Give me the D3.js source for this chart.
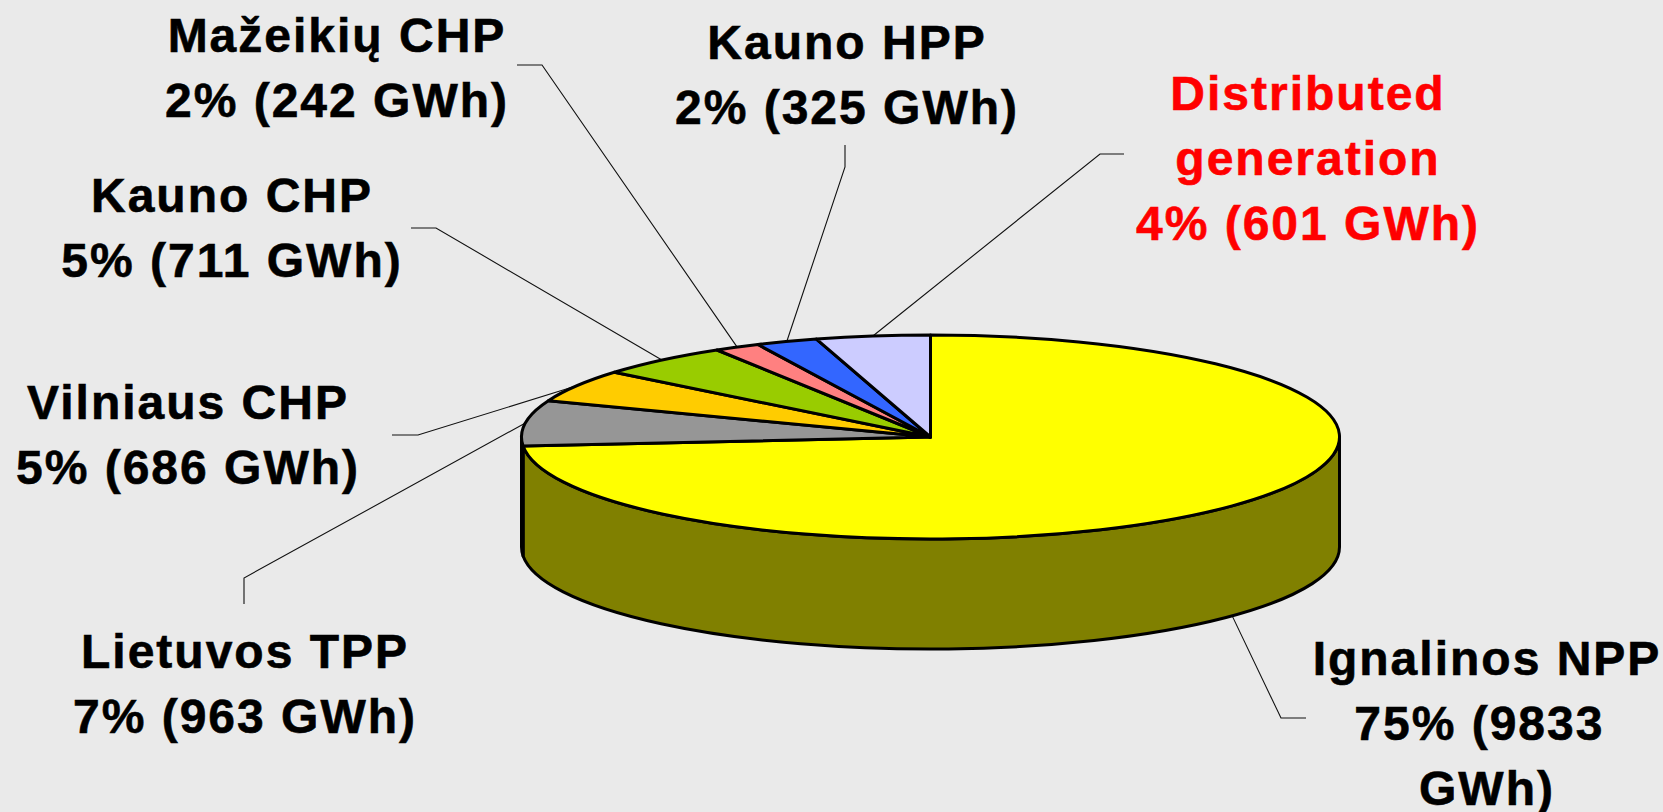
<!DOCTYPE html>
<html>
<head>
<meta charset="utf-8">
<script src="https://cdn.jsdelivr.net/npm/d3@7"></script>
<style>
  html, body { margin: 0; padding: 0; background: #EAEAEA; }
  svg { display: block; }
  text { font-family: "Liberation Sans", Arial, sans-serif; font-weight: bold; font-size: 48px; letter-spacing: 2px; white-space: pre; stroke-width: 0.6px; }
</style>
</head>
<body>
<svg id="chart" width="1663" height="812"></svg>
<script>
// ---- data ----
const plants   = ["Ignalinos NPP", "Lietuvos TPP", "Vilniaus CHP", "Kauno CHP", "Mažeikių CHP", "Kauno HPP", "Distributed generation"];
const gwh      = [9833, 963, 686, 711, 242, 325, 601];
const percents = [75, 7, 5, 5, 2, 2, 4];
const colors   = ["#FFFF00", "#969696", "#FFCC00", "#99CC00", "#FF8080", "#3366FF", "#CCCCFF"];

// ---- layout (styles / positions) ----
const W = 1663, H = 812;
const cx = 930.5, cy = 437, rx = 409, ry = 102, depth = 110;
const lineH = 65;
const layout = [
  { x: 1487, y: 675, lines: d => ["Ignalinos NPP", `${d.p}% (${d.v}\u00a0`, "GWh)"], elbow: [[1281, 718], [1306, 718]], bottom: true },
  { x: 245,  y: 668, lines: d => ["Lietuvos TPP", `${d.p}% (${d.v} GWh)`], elbow: [[244, 578], [244, 604]] },
  { x: 188,  y: 419, lines: d => ["Vilniaus CHP", `${d.p}% (${d.v} GWh)`], elbow: [[418, 435], [392, 435]] },
  { x: 232,  y: 212, lines: d => ["Kauno CHP", `${d.p}% (${d.v} GWh)`], elbow: [[436, 228], [411, 228]] },
  { x: 337,  y: 52,  lines: d => ["Mažeikių CHP", `${d.p}% (${d.v} GWh)`], elbow: [[542, 65], [517, 65]] },
  { x: 847,  y: 59,  lines: d => ["Kauno HPP", `${d.p}% (${d.v} GWh)`], elbow: [[845, 167], [845, 145]] },
  { x: 1308, y: 110, lines: d => ["Distributed", "generation", `${d.p}% (${d.v} GWh)`], elbow: [[1100, 154], [1124, 154]], color: "#FF0000" }
];

const data = plants.map((name, i) => ({ name, v: gwh[i], p: percents[i], color: colors[i], i }));

const svg = d3.select("#chart");
svg.append("rect").attr("width", W).attr("height", H).attr("fill", "#EAEAEA");

const pie = d3.pie().sort(null).value(d => d.v).startAngle(0).endAngle(2 * Math.PI);
const arcs = pie(data);

const px = a => cx + rx * Math.sin(a);
const py = (a, dz = 0) => cy - ry * Math.cos(a) + dz;

// ---- leader lines ----
const gLines = svg.append("g");
arcs.forEach((a, i) => {
  const L = layout[i];
  const mid = (a.startAngle + a.endAngle) / 2;
  const start = [px(mid), py(mid, L.bottom ? depth : 0)];
  gLines.append("path")
    .attr("d", d3.line()([start, ...L.elbow]))
    .attr("fill", "none")
    .attr("stroke", "#111")
    .attr("stroke-width", 1.1);
});

// ---- sides ----
const gSide = svg.append("g");
arcs.forEach(a => {
  const a0 = Math.max(a.startAngle, Math.PI / 2);
  const a1 = Math.min(a.endAngle, 3 * Math.PI / 2);
  if (a1 <= a0) return;
  const d = `M ${px(a0)} ${py(a0)} A ${rx} ${ry} 0 0 1 ${px(a1)} ${py(a1)} ` +
            `L ${px(a1)} ${py(a1, depth)} A ${rx} ${ry} 0 0 0 ${px(a0)} ${py(a0, depth)} Z`;
  const c = d3.color(a.data.color);
  gSide.append("path")
    .attr("d", d)
    .attr("fill", d3.rgb(c.r * 0.5, c.g * 0.5, c.b * 0.5))
    .attr("stroke", "#000")
    .attr("stroke-width", 3)
    .attr("stroke-linejoin", "round");
});

// ---- tops ----
const gTop = svg.append("g");
arcs.forEach(a => {
  const a0 = a.startAngle, a1 = a.endAngle;
  const large = (a1 - a0) > Math.PI ? 1 : 0;
  const d = `M ${cx} ${cy} L ${px(a0)} ${py(a0)} A ${rx} ${ry} 0 ${large} 1 ${px(a1)} ${py(a1)} Z`;
  gTop.append("path")
    .attr("d", d)
    .attr("fill", a.data.color)
    .attr("stroke", "#000")
    .attr("stroke-width", 3)
    .attr("stroke-linejoin", "round");
});

// ---- labels ----
const gLab = svg.append("g");
data.forEach((d, i) => {
  const L = layout[i];
  const col = L.color || "#000";
  const t = gLab.append("text")
    .attr("text-anchor", "middle")
    .attr("fill", col)
    .attr("stroke", col);
  L.lines(d).forEach((s, k) => {
    t.append("tspan").attr("x", L.x).attr("y", L.y + k * lineH).text(s);
  });
});
</script>
</body>
</html>
